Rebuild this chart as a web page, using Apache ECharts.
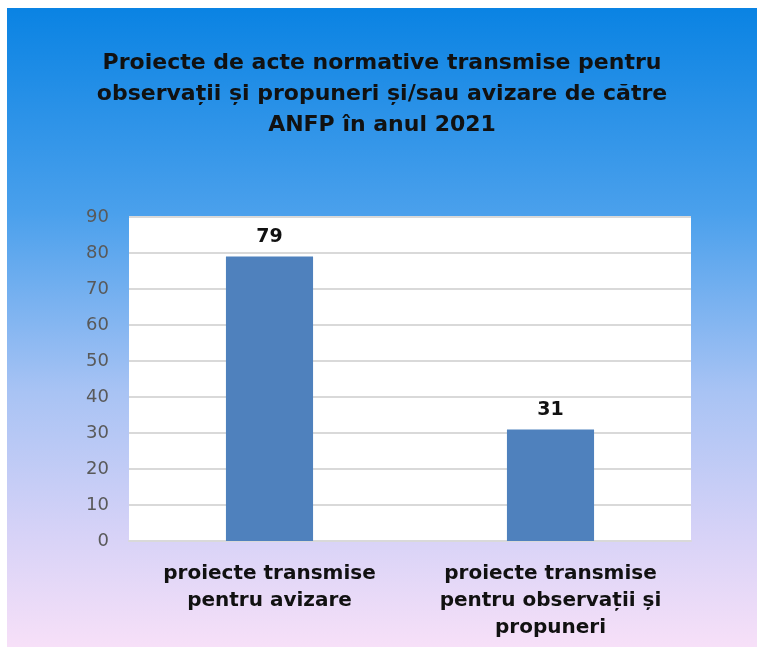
<!DOCTYPE html>
<html>
<head>
<meta charset="utf-8">
<script src="https://cdn.jsdelivr.net/npm/echarts@6/dist/echarts.min.js"></script>
<style>
  html, body { margin: 0; padding: 0; background: #fff; }
  #chart { position: absolute; left: 7px; top: 8px; width: 750px; height: 639px; }
</style>
</head>
<body>
<div id="chart"></div>
<script>
const titleText = 'Proiecte de acte normative transmise pentru\nobservații și propuneri și/sau avizare de către\nANFP în anul 2021';
const categories = ['proiecte transmise\npentru avizare', 'proiecte transmise\npentru observații și\npropuneri'];
const values = [79, 31];
const yTicks = { min: 0, max: 90, interval: 10 };

const chart = echarts.init(document.getElementById('chart'));

chart.setOption({
  animation: false,
  backgroundColor: {
    type: 'linear', x: 0, y: 0, x2: 0, y2: 1,
    colorStops: [
      { offset: 0, color: '#0a83e3' },
      { offset: 0.32, color: '#4aa0ec' },
      { offset: 0.6, color: '#a8c3f4' },
      { offset: 0.82, color: '#d6d2f7' },
      { offset: 1, color: '#f7e0f8' }
    ]
  },
  textStyle: { fontFamily: 'DejaVu Sans' },
  title: {
    text: titleText,
    left: 'center',
    top: 35,
    textStyle: {
      fontFamily: 'DejaVu Sans',
      fontWeight: 'bold',
      fontSize: 22,
      lineHeight: 31,
      color: '#111'
    }
  },
  grid: {
    left: 122, top: 209, width: 562, height: 324,
    show: true, backgroundColor: '#fff', borderWidth: 0
  },
  xAxis: {
    type: 'category',
    data: categories,
    axisLine: { lineStyle: { color: '#d9d9d9', width: 2 } },
    axisTick: { show: false },
    axisLabel: {
      interval: 0,
      hideOverlap: false,
      margin: 19,
      fontFamily: 'DejaVu Sans',
      fontWeight: 'bold',
      fontSize: 20,
      lineHeight: 27,
      color: '#111'
    }
  },
  yAxis: {
    type: 'value',
    min: yTicks.min, max: yTicks.max, interval: yTicks.interval,
    axisLine: { show: false },
    axisTick: { show: false },
    splitLine: { lineStyle: { color: '#d9d9d9', width: 2 } },
    axisLabel: { margin: 20, fontSize: 18, color: '#595959', fontFamily: 'DejaVu Sans' }
  },
  series: [{
    type: 'bar',
    data: values,
    barWidth: '31%',
    itemStyle: { color: '#4f81bd' },
    label: {
      show: true,
      position: 'top',
      distance: 10,
      fontFamily: 'DejaVu Sans',
      fontWeight: 'bold',
      fontSize: 19,
      color: '#111'
    }
  }]
});
</script>
</body>
</html>
